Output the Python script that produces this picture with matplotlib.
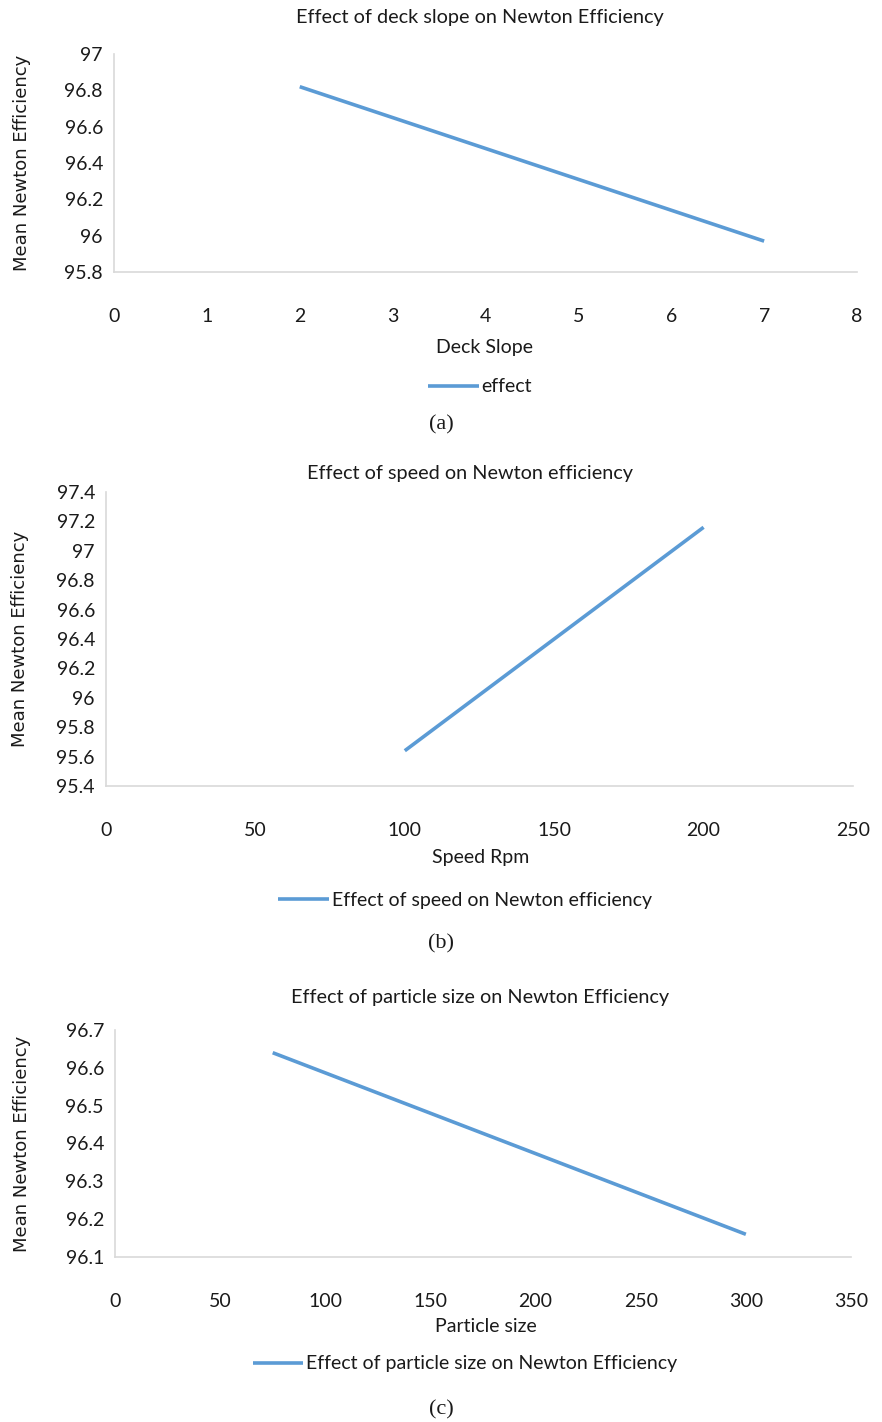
import matplotlib
matplotlib.use("Agg")
import matplotlib.pyplot as plt

# Data
slope_x = [2, 7]
slope_y = [96.82, 95.97]
speed_x = [100, 200]
speed_y = [95.64, 97.16]
size_x = [75, 300]
size_y = [96.64, 96.16]

titles = ["Effect of deck slope on Newton Efficiency",
          "Effect of speed on Newton efficiency",
          "Effect of particle size on Newton Efficiency"]
xlabels = ["Deck Slope", "Speed Rpm", "Particle size"]
legends = ["effect", "Effect of speed on Newton efficiency",
           "Effect of particle size on Newton Efficiency"]
ylabel = "Mean Newton Efficiency"
captions = ["(a)", "(b)", "(c)"]

W, H = 882, 1422
fig = plt.figure(figsize=(W / 100, H / 100), dpi=100)
NARROW = ["Lato", "DejaVu Sans"]
LINE = "#5b9bd5"
SPINE = "#d9d9d9"
TXT = "#1a1a1a"

def fx(px):
    return px / W

def fy(py):
    return 1 - py / H

panels = [
    dict(x=slope_x, y=slope_y, box=(114, 54, 857, 272), xlim=(0, 8), xt=range(0, 9, 1),
         ylim=(95.8, 97), yt=[95.8, 96, 96.2, 96.4, 96.6, 96.8, 97], ytl=["95.8", "96", "96.2", "96.4", "96.6", "96.8", "97"],
         title=(480, 18), xlab=(485, 347), leg=(480, 387), cap_y=425, tick_pad=26, ylab_x=22),
    dict(x=speed_x, y=speed_y, box=(106, 492, 853, 786), xlim=(0, 250), xt=range(0, 251, 50),
         ylim=(95.4, 97.4), yt=[95.4, 95.6, 95.8, 96, 96.2, 96.4, 96.6, 96.8, 97, 97.2, 97.4],
         ytl=["95.4", "95.6", "95.8", "96", "96.2", "96.4", "96.6", "96.8", "97", "97.2", "97.4"],
         title=(470, 474), xlab=(481, 857), leg=(465, 900), cap_y=944, tick_pad=26, ylab_x=20),
    dict(x=size_x, y=size_y, box=(115, 1030, 851, 1257), xlim=(0, 350), xt=range(0, 351, 50),
         ylim=(96.1, 96.7), yt=[96.1, 96.2, 96.3, 96.4, 96.5, 96.6, 96.7],
         ytl=["96.1", "96.2", "96.3", "96.4", "96.5", "96.6", "96.7"],
         title=(480, 997), xlab=(486, 1326), leg=(465, 1364), cap_y=1410, tick_pad=26, ylab_x=22),
]

for i, p in enumerate(panels):
    l, t, r, b = p["box"]
    ax = fig.add_axes([fx(l), fy(b), fx(r - l), (b - t) / H])
    ax.plot(p["x"], p["y"], color=LINE, lw=2.6, solid_capstyle="butt", label=legends[i])
    ax.set_xlim(*p["xlim"])
    ax.set_ylim(*p["ylim"])
    ax.set_xticks(list(p["xt"]))
    ax.set_xticklabels([str(v) for v in p["xt"]], family=NARROW, fontsize=14, color=TXT)
    ax.set_yticks(p["yt"])
    ax.set_yticklabels(p["ytl"], family=NARROW, fontsize=14, color=TXT)
    ax.tick_params(length=0)
    ax.tick_params(axis="x", pad=p["tick_pad"])
    ax.tick_params(axis="y", pad=8)
    for s in ["top", "right"]:
        ax.spines[s].set_visible(False)
    for s in ["left", "bottom"]:
        ax.spines[s].set_color(SPINE)
        ax.spines[s].set_linewidth(1.2)
    fig.text(fx(p["title"][0]), fy(p["title"][1]), titles[i], ha="center", va="center",
             family=NARROW, fontsize=14.3, color=TXT)
    fig.text(fx(p["xlab"][0]), fy(p["xlab"][1]), xlabels[i], ha="center", va="center",
             family=NARROW, fontsize=14, color=TXT)
    fig.text(fx(p["ylab_x"]), fy((t + b) / 2), ylabel, ha="center", va="center", rotation=90,
             family="DejaVu Sans", fontsize=13, color=TXT)
    fig.legend(handles=ax.get_lines(), labels=[legends[i]], loc="center",
               bbox_to_anchor=(fx(p["leg"][0]), fy(p["leg"][1])), frameon=False,
               prop=dict(family=NARROW, size=14), handlelength=2.6, handletextpad=0.15,
               labelcolor=TXT)
    fig.text(0.5, fy(p["cap_y"]), captions[i], ha="center", va="center",
             family="Liberation Serif", fontsize=16, color=TXT)

fig.savefig("out.png", dpi=100)
